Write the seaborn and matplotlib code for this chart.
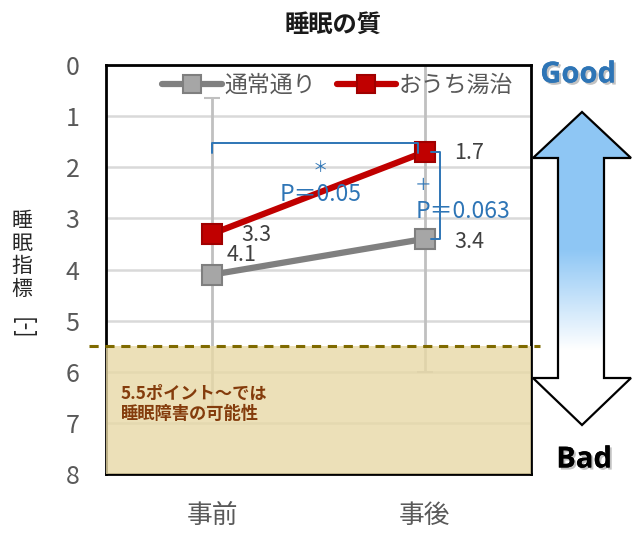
import numpy as np
import pandas as pd
import matplotlib
matplotlib.use("Agg")
import matplotlib.pyplot as plt
import matplotlib.transforms as mtransforms
from matplotlib.patches import Polygon
import matplotlib.patheffects as pe
import seaborn as sns

# データ
phases = ["事前", "事後"]
groups = ["通常通り", "おうち湯治"]
normal_vals = [4.1, 3.4]
onsen_vals = [3.3, 1.7]
normal_err_top = [0.65, -0.3]
normal_err_bottom = [6.7, 6.0]
threshold = 5.5
y_ticks = list(range(0, 9))

sns.set_theme(style="white")
plt.rcParams['font.family'] = ['Noto Sans CJK JP', 'DejaVu Sans']

df = pd.DataFrame({
    "時期": phases * 2,
    "睡眠指標": normal_vals + onsen_vals,
    "群": [groups[0]] * 2 + [groups[1]] * 2,
})

W, H = 640, 543
fig = plt.figure(figsize=(6.4, 5.43), dpi=100)
ax = fig.add_axes([106 / W, 1 - 474 / H, 425 / W, 409 / H])

# 誤差範囲（通常通り）
yerr = [[v - t for v, t in zip(normal_vals, normal_err_top)],
        [b - v for v, b in zip(normal_vals, normal_err_bottom)]]
ax.errorbar([0, 1], normal_vals, yerr=yerr, fmt="none", ecolor="#c0c0c0",
            elinewidth=2, capsize=6, capthick=2, zorder=1.5)

sns.lineplot(data=df, x="時期", y="睡眠指標", hue="群", style="群",
             markers=["s", "s"], dashes=False, sort=False,
             palette=["#808080", "#c00000"], linewidth=4.5, markersize=14,
             ax=ax, zorder=4)

def style_marker(line):
    c = matplotlib.colors.to_hex(line.get_color())
    if c == "#808080":
        line.set_markerfacecolor("#a6a6a6")
        line.set_markeredgecolor("#7f7f7f")
    elif c == "#c00000":
        line.set_markerfacecolor("#c00000")
        line.set_markeredgecolor("#a00000")
    line.set_markeredgewidth(1.5)

for line in ax.lines:
    style_marker(line)

ax.set_xlim(-0.5, 1.5)
ax.set_ylim(8, 0)
ax.set_yticks(y_ticks)
ax.set_xticks([0, 1])
ax.set_xticklabels(phases)
ax.yaxis.grid(True, color="#d9d9d9", linewidth=1.8)
ax.set_axisbelow(True)
ax.tick_params(axis="y", labelsize=18, labelcolor="#595959", length=0, pad=19)
ax.tick_params(axis="x", labelsize=18.5, labelcolor="#595959", length=0, pad=21)
ax.set_xlabel("")
ax.set_ylabel("")
for s in ax.spines.values():
    s.set_color("black")
    s.set_linewidth(2)

# 睡眠障害の可能性ゾーン
ax.axhspan(threshold, 8, color="#e8d9a6", alpha=0.8, zorder=2.6, linewidth=0)
trans = mtransforms.blended_transform_factory(ax.transAxes, ax.transData)
ax.plot([-0.04, 1.02], [threshold, threshold], transform=trans, clip_on=False,
        color="#7f6a00", linestyle=(0, (3, 2.2)), linewidth=2.2, zorder=6)
ax.text(-0.43, 6.63, "5.5ポイント～では\n睡眠障害の可能性", color="#843c0c",
        fontsize=12.4, fontweight="bold", va="center", ha="left",
        linespacing=1.2, zorder=7)

# データラベル
label_offsets = {(0, 0): (10, 14), (1, 0): (21, -2), (0, 1): (21, -1), (1, 1): (21, -1)}
for gi, vals in enumerate([normal_vals, onsen_vals]):
    for xi, v in enumerate(vals):
        ax.annotate(f"{v}", (xi, v), xytext=label_offsets[(xi, gi)],
                    textcoords="offset points", ha="left", va="center",
                    fontsize=15.5, color="#404040", zorder=8)

# 有意差ブラケット
blue = "#2e75b6"
ax.plot([0, 0, 0.97, 0.97], [1.72, 1.52, 1.52, 1.72], color=blue, lw=1.4, zorder=5)
ax.plot([1.03, 1.07, 1.07, 1.03], [onsen_vals[1], onsen_vals[1], normal_vals[1], normal_vals[1]],
        color=blue, lw=1.4, zorder=5)
ax.text(0.51, 2.0, "＊", color=blue, fontsize=11, ha="center", va="center", zorder=8)
ax.text(0.51, 2.53, "P＝0.05", color=blue, fontsize=16.5, ha="center", va="center", zorder=8)
ax.text(0.99, 2.35, "＋", color=blue, fontsize=12, ha="center", va="center", zorder=8)
ax.text(1.18, 2.86, "P＝0.063", color=blue, fontsize=16.5, ha="center", va="center", zorder=8)

leg = ax.legend(loc="center", bbox_to_anchor=(0.545, 0.95), ncol=2, frameon=False,
                fontsize=16.5, handlelength=2.6, columnspacing=0.9, handletextpad=0.1,
                borderaxespad=0, markerscale=0.9)
for t in leg.get_texts():
    t.set_color("#595959")
for h in leg.legend_handles:
    style_marker(h)

# タイトル・軸ラベル
fig.text(333 / W, 1 - 25 / H, "睡眠の質", ha="center", va="center",
         fontsize=17.5, fontweight="bold", color="#1a1a1a")
fig.text(22 / W, 1 - 255 / H, "睡\n眠\n指\n標", ha="center", va="center",
         fontsize=15, linespacing=1.05, color="#262626")
fig.text(22 / W, 1 - 328 / H, "[-]", ha="center", va="center", rotation=270,
         fontsize=16, color="#262626")

# Good / Bad 矢印
deco = fig.add_axes([0, 0, 1, 1], zorder=10)
deco.set_xlim(0, W)
deco.set_ylim(H, 0)
deco.axis("off")
deco.patch.set_alpha(0)
pts = [(582, 112), (631, 158), (604, 158), (604, 378), (631, 378), (582, 425),
       (533, 378), (558, 378), (558, 158), (533, 158)]
ys = np.linspace(112, 425, 300)
blue_rgb = np.array([0.56, 0.78, 0.96])
frac = np.clip((ys - 250) / 100, 0, 1)[:, None]
grad = blue_rgb * (1 - frac) + np.ones(3) * frac
img = deco.imshow(grad[:, None, :], extent=[533, 631, 425, 112], aspect="auto",
                  interpolation="bilinear")
arrow = Polygon(pts, closed=True, facecolor="none", edgecolor="black", linewidth=1.6)
deco.add_patch(arrow)
img.set_clip_path(arrow)
deco.set_xlim(0, W)
deco.set_ylim(H, 0)

shadow = [pe.withSimplePatchShadow(offset=(1.5, -1.5), shadow_rgbFace="#9a9a9a", alpha=0.6), pe.Normal()]
fig.text(578 / W, 1 - 75 / H, "Good", ha="center", va="center", fontsize=21,
         fontweight="bold", color="#2e75b6", family=["Open Sans", "DejaVu Sans"],
         path_effects=shadow)
fig.text(584 / W, 1 - 460 / H, "Bad", ha="center", va="center", fontsize=21,
         fontweight="bold", color="black", family=["Open Sans", "DejaVu Sans"],
         path_effects=shadow)

fig.savefig("out.png", dpi=100)
